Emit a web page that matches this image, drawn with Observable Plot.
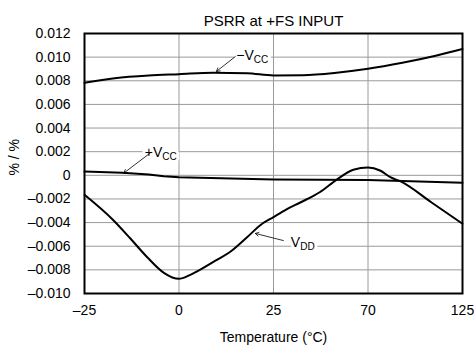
<!DOCTYPE html>
<html><head><meta charset="utf-8">
<script src="https://cdn.jsdelivr.net/npm/d3@7"></script>
<script src="https://cdn.jsdelivr.net/npm/@observablehq/plot@0.6"></script>
<style>
body{margin:0;background:#fff}
#chart svg{font-family:"Liberation Sans",Arial,sans-serif;}
#chart [aria-label*="axis"] text{font-size:14px;}
</style></head><body><div id="chart"></div>
<script>
// Axis ticks
const xTicks = [-25, 0, 25, 70, 125];
const yTicks = [0.012, 0.010, 0.008, 0.006, 0.004, 0.002, 0, -0.002, -0.004, -0.006, -0.008, -0.010];

// -Vcc series
const tNegVcc = [-25, -17, -8, 0, 9, 18, 25, 39, 55, 70, 90, 110, 125];
const vNegVcc = [0.00783, 0.00822, 0.00845, 0.00856, 0.00868, 0.00864, 0.00845, 0.00847, 0.00868, 0.00901, 0.00952, 0.01014, 0.01069];

// +Vcc series
const tPosVcc = [-25, -15, -8, -4, 0, 25, 70, 125];
const vPosVcc = [0.00032, 0.00021, 0.00007, -0.00008, -0.00016, -0.00036, -0.00040, -0.00063];

// Vdd series
const tVdd = [-25, -17.3, -12.8, -8.4, -4, 0, 3, 9, 14, 18, 22, 25, 31, 38, 47, 55, 63, 70, 77, 83, 89, 107, 125];
const vVdd = [-0.00165, -0.00382, -0.00537, -0.00693, -0.00825, -0.00876, -0.00842, -0.00735, -0.00636, -0.00524, -0.0041, -0.00353, -0.0029, -0.00228, -0.00143, -0.00038, 0.00047, 0.00066, 0.00041, -0.00016, -0.00052, -0.0023, -0.0041];

// Annotations
const labelMain = ["\u2212V", "+V", "V"];
const labelSub = ["CC", "CC", "DD"];
const labelT = [19.8, -4.4, 37.7];
const labelV = [0.00972, 0.00153, -0.00607];
const arrowT1 = [14.9, -7.6, 29.7];
const arrowV1 = [0.01005, 0.00189, -0.00552];
const arrowT2 = [9.9, -14.6, 20.2];
const arrowV2 = [0.00879, 0.00019, -0.00492];

const titleText = "PSRR at +FS INPUT";
const xLabel = "Temperature (\u00B0C)";
const yLabel = "% / %";

const series = (T, V) => T.map((t, i) => ({t, v: V[i]}));
const labels = labelMain.map((m, i) => ({m, s: labelSub[i], t: labelT[i], v: labelV[i]}));
const arrows = arrowT1.map((t, i) => ({t1: t, v1: arrowV1[i], t2: arrowT2[i], v2: arrowV2[i]}));

const fmtX = d => (d < 0 ? "\u2013" : "") + Math.abs(d);
const fmtY = d => Math.abs(d) < 1e-9 ? "0" : (d < 0 ? "\u2013" : "") + Math.abs(d).toFixed(3);

const lineStyle = {x: "t", y: "v", stroke: "black", strokeWidth: 2, curve: "monotone-x"};

const chart = Plot.plot({
  width: 476, height: 347,
  marginTop: 33, marginBottom: 54, marginLeft: 84, marginRight: 14,
  style: {fontFamily: "Liberation Sans, Arial, sans-serif", fontSize: "14px", background: "white", color: "black"},
  x: {type: "linear", domain: xTicks, ticks: xTicks, tickSize: 0, tickPadding: 12, tickFormat: fmtX, label: null},
  y: {domain: [-0.010, 0.012], ticks: yTicks, tickSize: 0, tickPadding: 14, tickFormat: fmtY, label: null},
  marks: [
    Plot.ruleY(yTicks, {stroke: "#9a9a9a", strokeWidth: 1}),
    Plot.ruleX(xTicks, {stroke: "#9a9a9a", strokeWidth: 1}),
    Plot.text(labels, {x: "t", y: "v", text: "m", textAnchor: "end", lineAnchor: "bottom", fontSize: 14, stroke: "white", strokeWidth: 6, fill: "black", paintOrder: "stroke"}),
    Plot.text(labels, {x: "t", y: "v", text: "s", textAnchor: "start", lineAnchor: "bottom", dy: 3, fontSize: 10, stroke: "white", strokeWidth: 6, fill: "black", paintOrder: "stroke"}),
    Plot.arrow(arrows, {x1: "t1", y1: "v1", x2: "t2", y2: "v2", stroke: "black", strokeWidth: 0.8, headLength: 7}),
    Plot.line(series(tNegVcc, vNegVcc), lineStyle),
    Plot.line(series(tPosVcc, vPosVcc), {...lineStyle, curve: "linear"}),
    Plot.line(series(tVdd, vVdd), lineStyle),
    Plot.frame({stroke: "black", strokeWidth: 2}),
    Plot.text([titleText], {frameAnchor: "top", lineAnchor: "bottom", dy: -8, fontSize: 15}),
    Plot.text([xLabel], {frameAnchor: "bottom", lineAnchor: "bottom", dy: 48, fontSize: 14}),
    Plot.text([yLabel], {frameAnchor: "left", rotate: -90, dx: -70, dy: 12, fontSize: 14})
  ]
});
document.getElementById("chart").appendChild(chart);
</script>
</body></html>
